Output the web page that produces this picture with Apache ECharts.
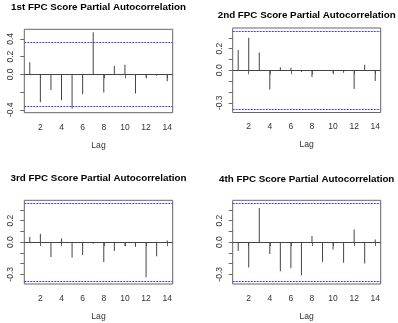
<!DOCTYPE html>
<html>
<head>
<meta charset="utf-8">
<script src="https://cdn.jsdelivr.net/npm/echarts@6/dist/echarts.min.js"></script>
<style>
  html, body { margin: 0; padding: 0; background: #fff; }
  #chart { width: 398px; height: 323px; }
</style>
</head>
<body>
<div id="chart"></div>
<script>
// partial autocorrelation of the four FPC scores
const lags = [1, 2, 3, 4, 5, 6, 7, 8, 9, 10, 11, 12, 13, 14];
const pacf1 = [0.135, -0.315, -0.176, -0.292, -0.385, -0.224, 0.475, -0.206, 0.093, 0.108, -0.217, -0.034, -0.015, -0.078];
const pacf2 = [0.186, 0.300, 0.164, -0.177, 0.028, 0.022, -0.016, -0.063, -0.003, -0.025, -0.022, -0.173, 0.050, -0.100];
const pacf3 = [0.047, 0.079, -0.139, 0.035, -0.142, -0.120, -0.016, -0.186, -0.082, -0.035, -0.044, -0.328, -0.132, 0.016];
const pacf4 = [-0.082, -0.237, 0.319, -0.110, -0.271, -0.243, -0.309, 0.057, -0.183, -0.069, -0.192, 0.117, -0.199, 0.025];
const titles = [
  '1st FPC Score Partial Autocorrelation',
  '2nd FPC Score Partial Autocorrelation',
  '3rd FPC Score Partial Autocorrelation',
  '4th FPC Score Partial Autocorrelation'
];
const ci = 0.36;
const lagTicks = [2, 4, 6, 8, 10, 12, 14];
const yTicks1 = [-0.4, -0.2, 0, 0.2, 0.4];
const yLabels1 = [-0.4, 0, 0.2, 0.4];
const yTicks2 = [-0.3, -0.2, -0.1, 0, 0.1, 0.2, 0.3];
const yLabels2 = [-0.3, 0, 0.2];

const font = "'Liberation Sans', Arial, Helvetica, sans-serif";

// panel boxes in pixels
const panels = [
  { data: pacf1, left: 24.3, top: 29.3, width: 148.4, height: 83.4, ymin: -0.433, ymax: 0.508, ticks: yTicks1, labels: yLabels1, tx: 98.5, ty: 1.8 },
  { data: pacf2, left: 232.7, top: 28, width: 148, height: 84.5, ymin: -0.39, ymax: 0.39, ticks: yTicks2, labels: yLabels2, tx: 306.7, ty: 10.3 },
  { data: pacf3, left: 24.3, top: 200.3, width: 148.4, height: 83.7, ymin: -0.39, ymax: 0.39, ticks: yTicks2, labels: yLabels2, tx: 98.5, ty: 172.8 },
  { data: pacf4, left: 232.7, top: 200.3, width: 148, height: 83.7, ymin: -0.39, ymax: 0.39, ticks: yTicks2, labels: yLabels2, tx: 306.7, ty: 173.8 }
];

const chart = echarts.init(document.getElementById('chart'), null, { renderer: 'canvas' });

const option = {
  animation: false,
  backgroundColor: '#fff',
  title: panels.map((p, i) => ({
    text: titles[i],
    left: p.tx,
    top: p.ty,
    textAlign: 'center',
    padding: 0,
    textStyle: { fontFamily: font, fontSize: 9.8, fontWeight: 'bold', color: '#000' }
  })),
  grid: panels.map(p => ({
    left: p.left,
    top: p.top,
    width: p.width,
    height: p.height,
    show: true,
    borderColor: '#666',
    borderWidth: 1,
    containLabel: false
  })),
  xAxis: panels.map((p, i) => ({
    type: 'value',
    gridIndex: i,
    min: 0.48,
    max: 14.52,
    name: 'Lag',
    nameLocation: 'middle',
    nameGap: 28,
    nameTextStyle: { fontFamily: font, fontSize: 8.6, color: '#333' },
    axisLine: { show: false },
    splitLine: { show: false },
    axisTick: { show: true, length: 4, customValues: lagTicks, lineStyle: { color: '#666' } },
    axisLabel: {
      customValues: lagTicks,
      margin: 10,
      fontFamily: font,
      fontSize: 8.5,
      color: '#333'
    }
  })),
  yAxis: panels.map((p, i) => ({
    type: 'value',
    gridIndex: i,
    min: p.ymin,
    max: p.ymax,
    axisLine: { show: false },
    splitLine: { show: false },
    axisTick: { show: true, length: 4, customValues: p.ticks, lineStyle: { color: '#666' } },
    axisLabel: {
      customValues: p.labels,
      rotate: 90,
      margin: 9,
      fontFamily: font,
      fontSize: 8.5,
      color: '#333',
      formatter: v => v.toFixed(1)
    }
  })),
  series: panels.map((p, i) => ({
    type: 'bar',
    xAxisIndex: i,
    yAxisIndex: i,
    barWidth: 1,
    itemStyle: { color: '#444' },
    data: lags.map((l, k) => [l, p.data[k]]),
    markLine: {
      silent: true,
      symbol: 'none',
      label: { show: false },
      lineStyle: { color: '#3f3fff', width: 1, type: [2, 1] },
      data: [
        { yAxis: ci },
        { yAxis: -ci },
        { yAxis: 0, lineStyle: { color: '#444', width: 1, type: 'solid' } }
      ]
    }
  }))
};

chart.setOption(option);
</script>
</body>
</html>
